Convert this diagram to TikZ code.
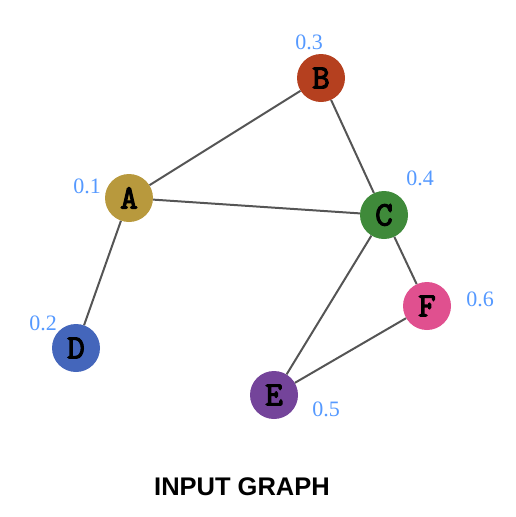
\documentclass[tikz,border=0pt]{standalone}
\usepackage{fontspec}
\setmainfont{Liberation Serif}
\newfontfamily\titlefont{Liberation Sans}
\newfontfamily\nodefont[FakeBold=3.5]{Latin Modern Mono}
\definecolor{cA}{HTML}{B8993D}
\definecolor{cB}{HTML}{B5401F}
\definecolor{cC}{HTML}{3F8A3A}
\definecolor{cD}{HTML}{4466BB}
\definecolor{cE}{HTML}{74449A}
\definecolor{cF}{HTML}{E0508F}
\definecolor{lbl}{HTML}{5599FF}
\definecolor{edgec}{HTML}{555555}
\tikzset{
  vert/.style={circle, minimum size=48pt, inner sep=0pt, font=\nodefont\fontsize{34}{34}\selectfont},
  wlabel/.style={text=lbl, font=\fontsize{22}{22}\selectfont, inner sep=0pt},
  edge/.style={draw=edgec, line width=2pt}
}
\begin{document}
\begin{tikzpicture}[x=1pt,y=-1pt]
\useasboundingbox (0,0) rectangle (516,517);
\node[vert, fill=cA] (A) at (129,198) {A};
\node[vert, fill=cB] (B) at (321,78) {B};
\node[vert, fill=cC] (C) at (384,215) {C};
\node[vert, fill=cD] (D) at (76,348) {D};
\node[vert, fill=cE] (E) at (274,395) {E};
\node[vert, fill=cF] (F) at (427,306) {F};
\draw[edge] (A) -- (B);
\draw[edge] (A) -- (C);
\draw[edge] (A) -- (D);
\draw[edge] (B) -- (C);
\draw[edge] (C) -- (E);
\draw[edge] (C) -- (F);
\draw[edge] (E) -- (F);
\node[wlabel] (lA) at (87,186) {0.1};
\node[wlabel] (lB) at (309,42) {0.3};
\node[wlabel] (lC) at (420,178) {0.4};
\node[wlabel] (lD) at (43,323) {0.2};
\node[wlabel] (lE) at (326,409) {0.5};
\node[wlabel] (lF) at (480,299) {0.6};
\node[font=\titlefont\bfseries\fontsize{25.5}{25.5}\selectfont, inner sep=0pt] (title) at (242,487) {INPUT GRAPH};
\end{tikzpicture}
\end{document}
